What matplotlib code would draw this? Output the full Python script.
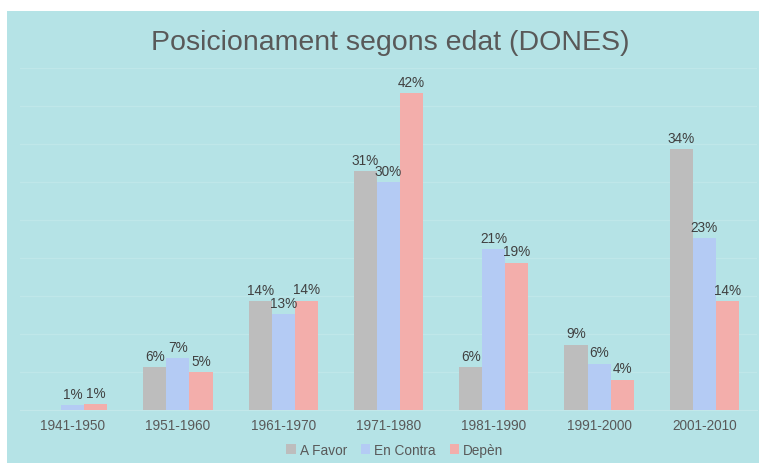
import matplotlib
matplotlib.use("Agg")
import matplotlib.pyplot as plt
import numpy as np
from matplotlib.patches import Rectangle

categories = ["1941-1950", "1951-1960", "1961-1970", "1971-1980", "1981-1990", "1991-2000", "2001-2010"]
a_favor = [0, 5.6, 14.3, 31.4, 5.6, 8.6, 34.3]
en_contra = [0.6, 6.8, 12.6, 30.0, 21.2, 6.1, 22.6]
depen = [0.8, 5.0, 14.4, 41.7, 19.4, 4.0, 14.3]
series_names = ["A Favor", "En Contra", "Depèn"]

bg = "#b5e3e6"
colors = ["#bdbdbd", "#b4cbf4", "#f3aeab"]

plt.rcParams['font.family'] = ['Liberation Sans', 'DejaVu Sans']

fig = plt.figure(figsize=(7.59, 4.64), dpi=100)
fig.patch.set_facecolor("white")
fig.patches.append(Rectangle((7/759, 0), 752/759, 452/464, transform=fig.transFigure,
                             facecolor=bg, edgecolor="none", zorder=-5))

ax = fig.add_axes([20/759, 53/464, 737/759, 342/464])
ax.patch.set_alpha(0)

x = np.arange(len(categories))
w = 0.219
for i, (vals, name, c) in enumerate(zip([a_favor, en_contra, depen], series_names, colors)):
    pos = x + (i - 1) * w
    ax.bar(pos, vals, width=w, color=c, label=name, zorder=3)
    for p, v in zip(pos, vals):
        if v > 0:
            ax.text(p, v + 0.55, f"{v:.0f}%", ha="center", va="bottom",
                    fontsize=9.8, color="#404040", zorder=4)

ax.set_xlim(-0.5, len(categories) - 0.5)
ax.set_ylim(0, 45)
ax.set_yticks(np.arange(0, 46, 5))
ax.yaxis.grid(True, color="#bfe7e9", linewidth=1, zorder=0)
ax.tick_params(axis="y", left=False, labelleft=False)
ax.tick_params(axis="x", length=0, pad=6, labelsize=9.8, labelcolor="#595959")
ax.set_xticks(x)
ax.set_xticklabels(categories)
for s in ["top", "right", "left"]:
    ax.spines[s].set_visible(False)
ax.spines["bottom"].set_color("#c3e8ea")

fig.text(390/759, 1 - 43/464, "Posicionament segons edat (DONES)", ha="center", va="center",
         fontsize=20.5, color="#595959")

fig.legend(loc="center", bbox_to_anchor=(395/759, 1 - 451/464), ncol=3, frameon=False,
           fontsize=9.8, handlelength=0.7, handleheight=0.7, handletextpad=0.3,
           columnspacing=1.0, labelcolor="#595959")

fig.savefig("out.png", dpi=100, facecolor=fig.get_facecolor())
